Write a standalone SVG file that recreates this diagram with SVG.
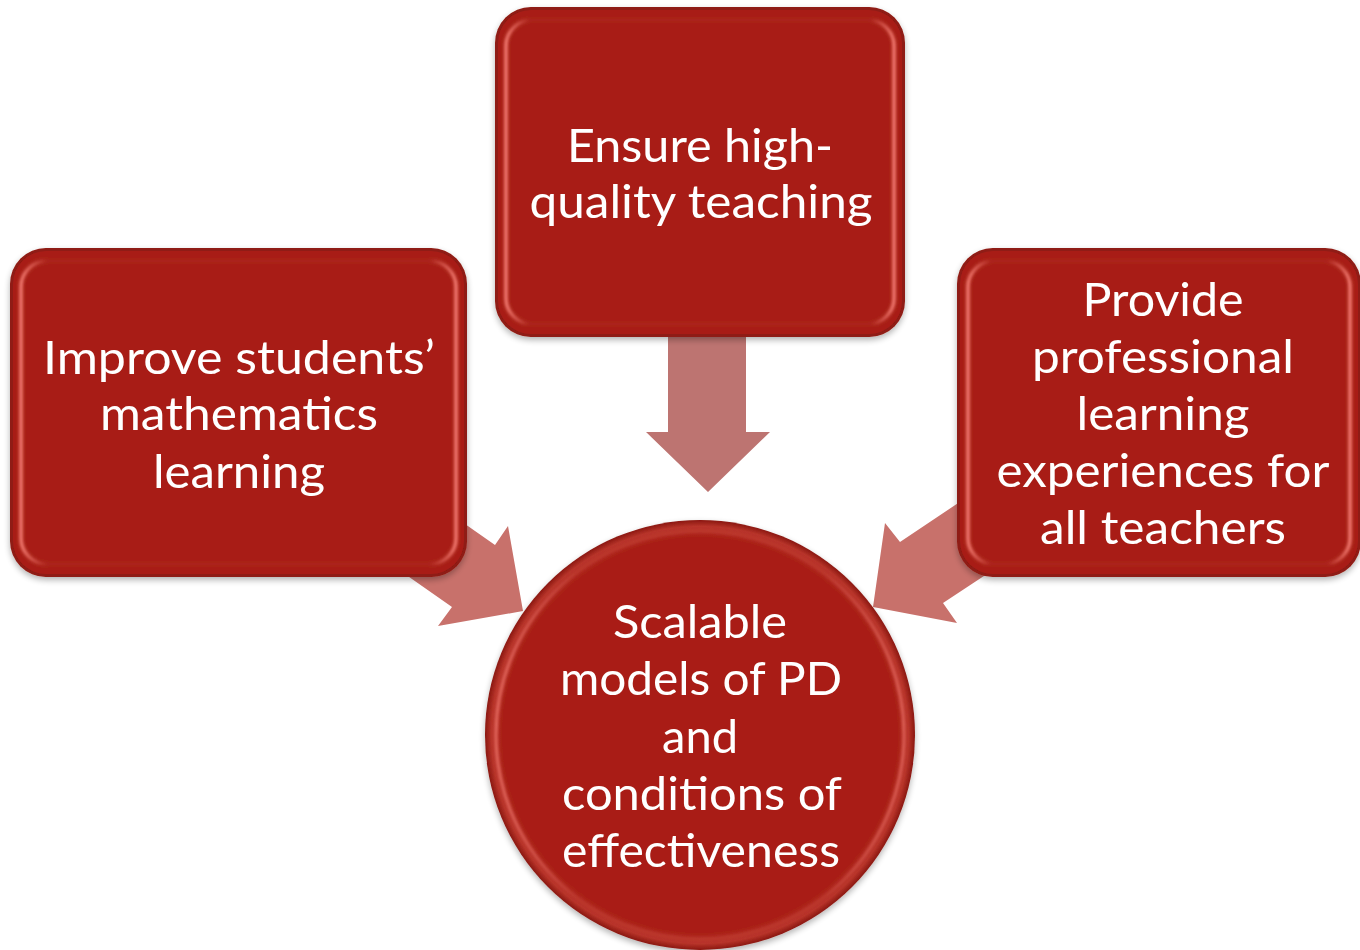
<svg xmlns="http://www.w3.org/2000/svg" width="1360" height="950" viewBox="0 0 1360 950">
  <defs>
    <filter id="soft" x="-10%" y="-10%" width="120%" height="120%">
      <feGaussianBlur stdDeviation="1.4"/>
    </filter>
    <filter id="shadow" x="-10%" y="-10%" width="120%" height="125%">
      <feGaussianBlur in="SourceAlpha" stdDeviation="3"/>
      <feOffset dy="3"/>
      <feComponentTransfer><feFuncA type="linear" slope="0.3"/></feComponentTransfer>
      <feMerge><feMergeNode/><feMergeNode in="SourceGraphic"/></feMerge>
    </filter>
    <linearGradient id="rimH" x1="0" y1="0" x2="1" y2="0">
      <stop offset="0" stop-color="#ff8a80" stop-opacity="0.9"/>
      <stop offset="0.06" stop-color="#ff8a80" stop-opacity="0.05"/>
      <stop offset="0.94" stop-color="#ff8a80" stop-opacity="0.05"/>
      <stop offset="1" stop-color="#ff8a80" stop-opacity="0.9"/>
    </linearGradient>
    <linearGradient id="discHi" x1="0" y1="0" x2="1" y2="0">
      <stop offset="0" stop-color="#ff8a80" stop-opacity="0.7"/>
      <stop offset="0.2" stop-color="#ff8a80" stop-opacity="0.15"/>
      <stop offset="0.8" stop-color="#ff8a80" stop-opacity="0.15"/>
      <stop offset="1" stop-color="#ff8a80" stop-opacity="0.6"/>
    </linearGradient>
    <radialGradient id="discRim" cx="0.5" cy="0.5" r="0.5">
      <stop offset="0.92" stop-color="#a91f16"/>
      <stop offset="0.97" stop-color="#b8342a"/>
      <stop offset="1" stop-color="#8a1710"/>
    </radialGradient>
  </defs>
  <style>
    .shell { fill: #8f1a12; }
    .face { fill: #a81f16; }
    .rim { fill: none; stroke: url(#rimH); stroke-width: 3.5; }
    .label { font-family: Lato, "Open Sans", "Liberation Sans", sans-serif; font-size: 46px; fill: #ffffff; text-anchor: middle; }
    .arrow-side { fill: #c8716b; }
    .arrow-down { fill: #bd7471; }
  </style>

  <rect width="1360" height="950" fill="#ffffff"/>

  <!-- connectors: block arrows drawn beneath the nodes -->
  <g id="connectors">
    <polygon class="arrow-down" points="668,330 746,330 746,432 770,432 708,492 646,432 668,432"/>
    <polygon class="arrow-side" points="395,475 495,545 508,526 523,611 438,626 452,607 352,537"/>
    <polygon class="arrow-side" points="1000,475 900,542 885,523 873,607 957,623 943,603 1043,537"/>
  </g>

  <!-- top node -->
  <g id="node-teaching" filter="url(#shadow)">
    <rect class="shell" x="495" y="7" width="410" height="330" rx="36"/>
    <rect class="face" x="498" y="10" width="404" height="324" rx="33"/>
    <rect class="rim" x="506" y="20" width="388" height="304" rx="26" filter="url(#soft)"/>
    <text class="label" x="700" y="162" textLength="266" lengthAdjust="spacingAndGlyphs">Ensure high-</text>
    <text class="label" x="701" y="218" textLength="343" lengthAdjust="spacingAndGlyphs">quality teaching</text>
  </g>

  <!-- left node -->
  <g id="node-students" filter="url(#shadow)">
    <rect class="shell" x="10" y="248" width="457" height="329" rx="36"/>
    <rect class="face" x="13" y="251" width="451" height="323" rx="33"/>
    <rect class="rim" x="21" y="261" width="435" height="303" rx="26" filter="url(#soft)"/>
    <text class="label" x="239" y="374" textLength="392" lengthAdjust="spacingAndGlyphs">Improve students’</text>
    <text class="label" x="239" y="430" textLength="278" lengthAdjust="spacingAndGlyphs">mathematics</text>
    <text class="label" x="239" y="488" textLength="172" lengthAdjust="spacingAndGlyphs">learning</text>
  </g>

  <!-- right node -->
  <g id="node-professional" filter="url(#shadow)">
    <rect class="shell" x="957" y="248" width="404" height="329" rx="36"/>
    <rect class="face" x="960" y="251" width="398" height="323" rx="33"/>
    <rect class="rim" x="968" y="261" width="382" height="303" rx="26" filter="url(#soft)"/>
    <text class="label" x="1163" y="316" textLength="161" lengthAdjust="spacingAndGlyphs">Provide</text>
    <text class="label" x="1163" y="373" textLength="262" lengthAdjust="spacingAndGlyphs">professional</text>
    <text class="label" x="1163" y="430" textLength="173" lengthAdjust="spacingAndGlyphs">learning</text>
    <text class="label" x="1163" y="487" textLength="333" lengthAdjust="spacingAndGlyphs">experiences for</text>
    <text class="label" x="1163" y="544" textLength="246" lengthAdjust="spacingAndGlyphs">all teachers</text>
  </g>

  <!-- central node -->
  <g id="node-scalable" filter="url(#shadow)">
    <circle cx="700" cy="735" r="215" fill="url(#discRim)"/>
    <circle cx="700" cy="735" r="204" fill="none" stroke="url(#discHi)" stroke-width="3" filter="url(#soft)"/>
    <text class="label" x="700" y="638" textLength="174" lengthAdjust="spacingAndGlyphs">Scalable</text>
    <text class="label" x="701" y="695" textLength="282" lengthAdjust="spacingAndGlyphs">models of PD</text>
    <text class="label" x="700" y="753" textLength="76" lengthAdjust="spacingAndGlyphs">and</text>
    <text class="label" x="702" y="810" textLength="280" lengthAdjust="spacingAndGlyphs">conditions of</text>
    <text class="label" x="701" y="867" textLength="278" lengthAdjust="spacingAndGlyphs">effectiveness</text>
  </g>
</svg>
